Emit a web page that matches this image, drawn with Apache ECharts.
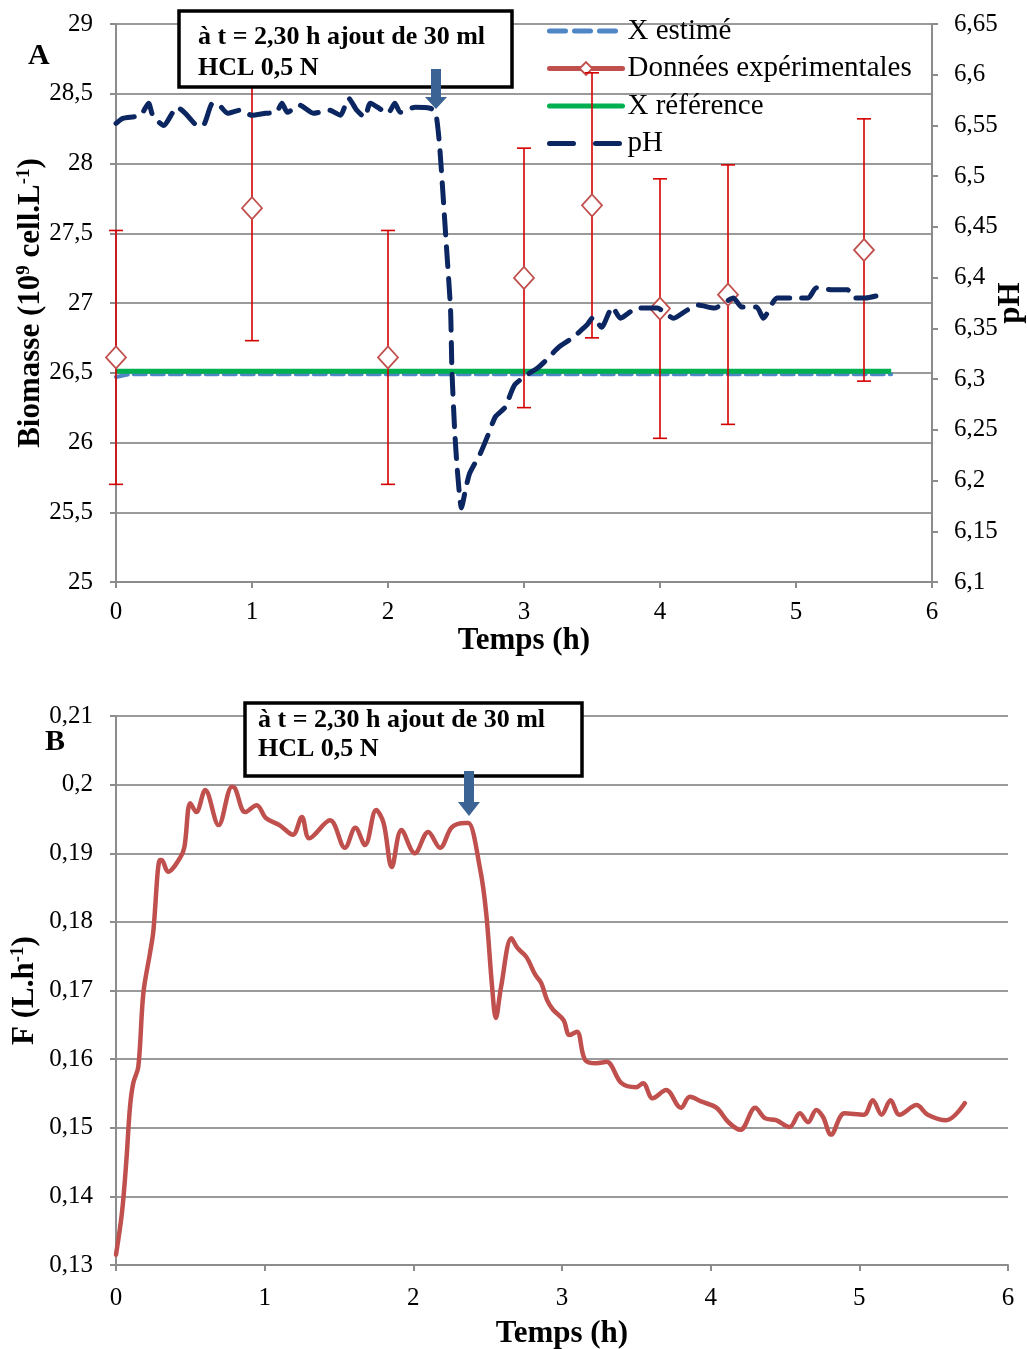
<!DOCTYPE html>
<html>
<head>
<meta charset="utf-8">
<script src="https://cdn.jsdelivr.net/npm/echarts@6/dist/echarts.min.js"></script>
<style>
  html, body { margin: 0; padding: 0; background: #fff; }
  #chart { width: 1027px; height: 1349px; }
</style>
</head>
<body>
<div id="chart"></div>
<script>
// ---------- Chart A data ----------
const timeTicksA = [0, 1, 2, 3, 4, 5, 6];
const biomassTicks = [25, 25.5, 26, 26.5, 27, 27.5, 28, 28.5, 29];
const phTicks = [6.1, 6.15, 6.2, 6.25, 6.3, 6.35, 6.4, 6.45, 6.5, 6.55, 6.6, 6.65];

const expTimes  = [0, 1, 2, 3, 3.5, 4, 4.5, 5.5];
const expValues = [26.61, 27.68, 26.61, 27.18, 27.70, 26.96, 27.06, 27.38];
const expErrors = [0.91, 0.95, 0.91, 0.93, 0.95, 0.93, 0.93, 0.94];

const xEstTimes  = [0, 0.1, 1, 2, 3, 4, 5, 5.7];
const xEstValues = [26.47, 26.49, 26.49, 26.49, 26.49, 26.49, 26.49, 26.49];

const xRefTimes  = [0, 1, 2, 3, 4, 5, 5.7];
const xRefValues = [26.51, 26.51, 26.51, 26.51, 26.51, 26.51, 26.51];

const phTimes = [0.0, 0.05, 0.18, 0.24, 0.27, 0.35, 0.45, 0.51, 0.60, 0.64, 0.71, 0.76, 0.82, 0.91, 1.00,
  1.10, 1.18, 1.22, 1.26, 1.35, 1.45, 1.57, 1.65, 1.71, 1.77, 1.83, 1.87, 2.00, 2.05, 2.09, 2.20, 2.31,
  2.35, 2.38, 2.43, 2.46, 2.47, 2.49, 2.51, 2.54, 2.57, 2.60, 2.68, 2.73, 2.79, 2.86, 2.93, 3.02, 3.10,
  3.15, 3.26, 3.35, 3.46, 3.51, 3.57, 3.65, 3.71, 3.83, 3.98, 4.10, 4.20, 4.28, 4.40, 4.54, 4.60, 4.71,
  4.76, 4.86, 4.99, 5.09, 5.15, 5.27, 5.38, 5.42, 5.51, 5.62];
const phValues = [6.552, 6.557, 6.560, 6.572, 6.560, 6.550, 6.568, 6.562, 6.550, 6.550, 6.572, 6.570, 6.562, 6.565, 6.560,
  6.562, 6.563, 6.572, 6.563, 6.570, 6.562, 6.565, 6.560, 6.577, 6.565, 6.558, 6.572, 6.562, 6.572, 6.563, 6.568, 6.567,
  6.563, 6.529, 6.430, 6.368, 6.309, 6.250, 6.210, 6.173, 6.191, 6.207, 6.227, 6.243, 6.263, 6.272, 6.294, 6.304, 6.311,
  6.317, 6.332, 6.340, 6.353, 6.361, 6.351, 6.371, 6.360, 6.370, 6.370, 6.360, 6.368, 6.373, 6.370, 6.380, 6.371, 6.371,
  6.360, 6.380, 6.380, 6.380, 6.390, 6.388, 6.388, 6.380, 6.380, 6.383];

// ---------- Chart B data ----------
const timeTicksB = [0, 1, 2, 3, 4, 5, 6];
const flowTicks = [0.13, 0.14, 0.15, 0.16, 0.17, 0.18, 0.19, 0.2, 0.21];
const flowTimes = [0.0, 0.04, 0.07, 0.094, 0.116, 0.15, 0.184, 0.229, 0.25, 0.296, 0.307, 0.35, 0.43, 0.46,
  0.50, 0.54, 0.60, 0.69, 0.78, 0.80, 0.87, 0.946, 1.01, 1.10, 1.19, 1.25, 1.30, 1.44, 1.54, 1.61, 1.675,
  1.75, 1.80, 1.855, 1.92, 2.01, 2.10, 2.18, 2.26, 2.35, 2.37, 2.45, 2.49, 2.53, 2.555, 2.59, 2.66, 2.70,
  2.76, 2.82, 2.86, 2.90, 2.94, 3.01, 3.05, 3.10, 3.155, 3.23, 3.30, 3.40, 3.50, 3.545, 3.61, 3.70, 3.80,
  3.86, 3.94, 4.04, 4.12, 4.20, 4.30, 4.365, 4.44, 4.53, 4.60, 4.655, 4.71, 4.755, 4.81, 4.90, 5.03, 5.09,
  5.15, 5.21, 5.27, 5.385, 5.46, 5.585, 5.71];
const flowValues = [0.1315, 0.1376, 0.1453, 0.1530, 0.1565, 0.1589, 0.1696, 0.1755, 0.1784, 0.1890, 0.1890, 0.1873, 0.1893, 0.1909,
  0.1973, 0.1960, 0.1992, 0.1941, 0.1997, 0.1995, 0.1960, 0.1970, 0.1951, 0.1941, 0.1927, 0.1953, 0.1922, 0.1948, 0.1908, 0.1937, 0.1912,
  0.1963, 0.1944, 0.1880, 0.1934, 0.1900, 0.1931, 0.1908, 0.1938, 0.1944, 0.1944, 0.1876, 0.1813, 0.1705, 0.1660, 0.1705, 0.1776, 0.1762,
  0.1749, 0.1723, 0.1711, 0.1686, 0.1672, 0.1657, 0.1635, 0.1640, 0.1599, 0.1594, 0.1596, 0.1565, 0.1559, 0.1565, 0.1543, 0.1555, 0.1529,
  0.1545, 0.1538, 0.1529, 0.1508, 0.1497, 0.1529, 0.1514, 0.1511, 0.1501, 0.1521, 0.1508, 0.1526, 0.1516, 0.1490, 0.1521, 0.1519, 0.1540,
  0.1519, 0.1540, 0.1519, 0.1533, 0.1519, 0.1511, 0.1536];

const annotationLines = ['à t = 2,30 h ajout de 30 ml', 'HCL 0,5 N'];

// ---------- helpers ----------
const FONT = 'Liberation Serif';
const pair = (xs, ys) => xs.map((x, i) => [x, ys[i]]);
const fmt = v => String(+v.toFixed(2)).replace('.', ',');
const GRID_COLOR = '#9a9a9a';
const AXIS_COLOR = '#8c8c8c';
const NAME_SIZE = 31;
const LABEL_SIZE = 25;
const C_EST = '#4f86c6', C_REF = '#00b050', C_EXP = '#c0504d', C_PH = '#0b2660', C_ERR = '#d40000';

function valueAxisX(gridIndex, ticks, nameGap, labelMargin) {
  return {
    type: 'value', gridIndex,
    min: ticks[0], max: ticks[ticks.length - 1], interval: ticks[1] - ticks[0],
    name: 'Temps (h)', nameLocation: 'middle', nameGap,
    nameTextStyle: { fontFamily: FONT, fontSize: NAME_SIZE, fontWeight: 'bold', color: '#000' },
    axisLine: { show: true, lineStyle: { color: AXIS_COLOR, width: 2 } },
    axisTick: { show: true, length: 6, lineStyle: { color: AXIS_COLOR, width: 2 } },
    axisLabel: { fontFamily: FONT, fontSize: LABEL_SIZE, color: '#000', margin: labelMargin, formatter: fmt },
    splitLine: { show: false }
  };
}

const richName = {
  t: { fontFamily: FONT, fontSize: NAME_SIZE, fontWeight: 'bold', color: '#000' },
  s: { fontFamily: FONT, fontSize: 19, fontWeight: 'bold', color: '#000', verticalAlign: 'top' }
};

const option = {
  animation: false,
  backgroundColor: '#fff',
  grid: [
    { left: 116, top: 24, width: 816, height: 558, outerBoundsMode: 'none', containLabel: false },
    { left: 116, top: 716, width: 892, height: 549, outerBoundsMode: 'none', containLabel: false }
  ],
  xAxis: [ valueAxisX(0, timeTicksA, 40, 18), valueAxisX(1, timeTicksB, 53, 21) ],
  yAxis: [
    {
      type: 'value', gridIndex: 0, position: 'left',
      min: biomassTicks[0], max: biomassTicks[biomassTicks.length - 1], interval: 0.5,
      name: '{t|Biomasse (10}{s|9}{t| cell.L}{s|-1}{t|)}', nameLocation: 'middle', nameGap: 70, nameRotate: 90,
      nameMoveOverlap: false,
      nameTextStyle: { rich: richName },
      axisLine: { show: true, lineStyle: { color: AXIS_COLOR, width: 2 } },
      axisTick: { show: true, length: 6, lineStyle: { color: AXIS_COLOR, width: 2 } },
      axisLabel: { fontFamily: FONT, fontSize: LABEL_SIZE, color: '#000', margin: 23, formatter: fmt },
      splitLine: { show: true, lineStyle: { color: GRID_COLOR, width: 2 } }
    },
    {
      type: 'value', gridIndex: 0, position: 'right',
      min: phTicks[0], max: phTicks[phTicks.length - 1], interval: 0.05,
      name: 'pH', nameLocation: 'middle', nameGap: 63, nameRotate: 90,
      nameMoveOverlap: false,
      nameTextStyle: { fontFamily: FONT, fontSize: NAME_SIZE, fontWeight: 'bold', color: '#000' },
      axisLine: { show: true, lineStyle: { color: AXIS_COLOR, width: 2 } },
      axisTick: { show: true, length: 6, lineStyle: { color: AXIS_COLOR, width: 2 } },
      axisLabel: { fontFamily: FONT, fontSize: LABEL_SIZE, color: '#000', margin: 22, formatter: fmt },
      splitLine: { show: false }
    },
    {
      type: 'value', gridIndex: 1, position: 'left',
      min: flowTicks[0], max: flowTicks[flowTicks.length - 1], interval: 0.01,
      name: '{t|F (L.h}{s|-1}{t|)}', nameLocation: 'middle', nameGap: 76, nameRotate: 90,
      nameMoveOverlap: false,
      nameTextStyle: { rich: richName },
      axisLine: { show: true, lineStyle: { color: AXIS_COLOR, width: 2 } },
      axisTick: { show: true, length: 6, lineStyle: { color: AXIS_COLOR, width: 2 } },
      axisLabel: { fontFamily: FONT, fontSize: LABEL_SIZE, color: '#000', margin: 23, formatter: fmt },
      splitLine: { show: true, lineStyle: { color: GRID_COLOR, width: 2 } }
    }
  ],
  legend: {
    orient: 'vertical', left: 547, top: 16, padding: 0,
    itemWidth: 73, itemHeight: 16, itemGap: 7.5,
    textStyle: { fontFamily: FONT, fontSize: 29, lineHeight: 30, color: '#000', padding: [0, 0, 0, 0] },
    data: [
      { name: 'X estimé', itemStyle: { opacity: 0 }, lineStyle: { width: 5, color: C_EST, type: [16, 9], cap: 'round', opacity: 1 } },
      { name: 'Données expérimentales', lineStyle: { width: 5, color: C_EXP, opacity: 1, type: 'solid', cap: 'round' } },
      { name: 'X référence', itemStyle: { opacity: 0 }, lineStyle: { width: 5, color: C_REF, type: 'solid', cap: 'round', opacity: 1 } },
      { name: 'pH', itemStyle: { opacity: 0 }, lineStyle: { width: 5, color: C_PH, type: [24, 22], cap: 'round', opacity: 1 } }
    ]
  },
  series: [
    {
      name: 'X estimé', type: 'line', xAxisIndex: 0, yAxisIndex: 0,
      data: pair(xEstTimes, xEstValues), showSymbol: false, symbol: 'none',
      itemStyle: { color: C_EST },
      lineStyle: { color: C_EST, width: 4, type: [12, 6], cap: 'round' }, z: 2
    },
    {
      name: 'X référence', type: 'line', xAxisIndex: 0, yAxisIndex: 0,
      data: pair(xRefTimes, xRefValues), showSymbol: false, symbol: 'none',
      itemStyle: { color: C_REF },
      lineStyle: { color: C_REF, width: 5 }, z: 3
    },
    {
      name: 'errorbars', type: 'custom', xAxisIndex: 0, yAxisIndex: 0,
      data: expTimes.map((t, i) => [t, expValues[i], expErrors[i]]),
      renderItem: function (params, api) {
        const x = api.value(0), y = api.value(1), e = api.value(2);
        const top = api.coord([x, y + e]);
        const bot = api.coord([x, y - e]);
        const st = { stroke: C_ERR, lineWidth: 1.6 };
        return {
          type: 'group',
          children: [
            { type: 'line', shape: { x1: top[0], y1: top[1], x2: bot[0], y2: bot[1] }, style: st },
            { type: 'line', shape: { x1: top[0] - 7, y1: top[1], x2: top[0] + 7, y2: top[1] }, style: st },
            { type: 'line', shape: { x1: bot[0] - 7, y1: bot[1], x2: bot[0] + 7, y2: bot[1] }, style: st }
          ]
        };
      },
      z: 4, silent: true
    },
    {
      name: 'Données expérimentales', type: 'line', xAxisIndex: 0, yAxisIndex: 0,
      data: pair(expTimes, expValues),
      symbol: 'diamond', symbolSize: [20, 22], showSymbol: true,
      lineStyle: { width: 0, opacity: 0, color: C_EXP },
      itemStyle: { color: '#ffffff', borderColor: C_EXP, borderWidth: 1.8 },
      z: 5
    },
    {
      name: 'pH', type: 'line', xAxisIndex: 0, yAxisIndex: 1,
      data: pair(phTimes, phValues), showSymbol: false, symbol: 'none', smooth: 0.2,
      itemStyle: { color: C_PH },
      lineStyle: { color: C_PH, width: 5, type: [20, 12], cap: 'round', join: 'round' }, z: 6
    },
    {
      name: 'F', type: 'line', xAxisIndex: 1, yAxisIndex: 2,
      data: pair(flowTimes, flowValues), showSymbol: false, symbol: 'none', smooth: 0.35,
      itemStyle: { color: C_EXP },
      lineStyle: { color: C_EXP, width: 4.5, cap: 'round', join: 'round' }, z: 3
    }
  ],
  graphic: [
    // panel labels
    { type: 'text', left: 28, top: 41, style: { text: 'A', font: 'bold 30px "Liberation Serif"', fill: '#000' }, z: 100 },
    { type: 'text', left: 45, top: 727, style: { text: 'B', font: 'bold 30px "Liberation Serif"', fill: '#000' }, z: 100 },
    // annotation A
    { type: 'rect', shape: { x: 179, y: 11, width: 333, height: 76 }, style: { fill: '#fff', stroke: '#000', lineWidth: 3.5 }, z: 90 },
    { type: 'text', x: 198, y: 24, style: { text: annotationLines[0], font: 'bold 26px "Liberation Serif"', fill: '#000' }, z: 91 },
    { type: 'text', x: 198, y: 55, style: { text: annotationLines[1], font: 'bold 26px "Liberation Serif"', fill: '#000' }, z: 91 },
    { type: 'polygon', shape: { points: [[431, 69], [441, 69], [441, 97], [447, 97], [436, 109], [425, 97], [431, 97]] }, style: { fill: '#3b6494' }, z: 92 },
    // annotation B
    { type: 'rect', shape: { x: 245, y: 703, width: 337, height: 73 }, style: { fill: '#fff', stroke: '#000', lineWidth: 3.5 }, z: 90 },
    { type: 'text', x: 258, y: 707, style: { text: annotationLines[0], font: 'bold 26px "Liberation Serif"', fill: '#000' }, z: 91 },
    { type: 'text', x: 258, y: 736, style: { text: annotationLines[1], font: 'bold 26px "Liberation Serif"', fill: '#000' }, z: 91 },
    { type: 'polygon', shape: { points: [[464, 771], [474, 771], [474, 802], [480, 802], [469, 816], [458, 802], [464, 802]] }, style: { fill: '#3b6494' }, z: 92 }
  ]
};

const chart = echarts.init(document.getElementById('chart'), null, { renderer: 'canvas' });
chart.setOption(option);
</script>
</body>
</html>
